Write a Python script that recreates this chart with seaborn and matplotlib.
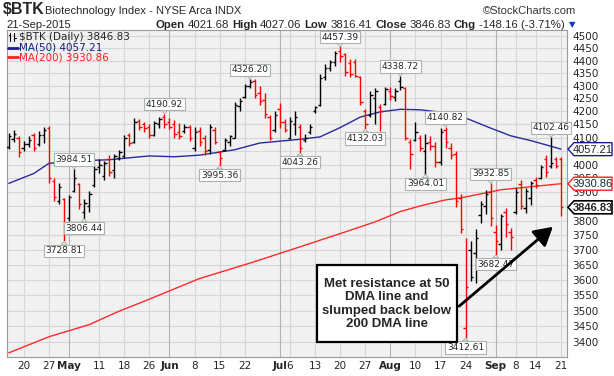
import numpy as np
import pandas as pd
import matplotlib
matplotlib.use("Agg")
import matplotlib.pyplot as plt
import seaborn as sns
from matplotlib.lines import Line2D
from matplotlib.patches import Rectangle, FancyArrowPatch, Polygon
from matplotlib.ticker import FixedLocator, NullLocator, FixedFormatter

# ---------------- data ----------------
holidays = ["2015-05-25", "2015-07-03", "2015-09-07"]
dates = [d for d in pd.bdate_range("2015-04-15", "2015-09-21") if d.strftime("%Y-%m-%d") not in holidays]

opens = [4065, 4095, 4100, 4060, 4075, 4110, 4075, 4110, 4135, 3940,
         3870, 3875, 3810, 3905, 3930, 3830, 3850, 3925, 3990, 3960,
         4020, 3980, 4025, 4030, 4110, 4085, 4165, 4150, 4140, 4110,
         4150, 4180, 4160, 4150, 4120, 4125, 4140, 4060, 4125, 4100,
         4055, 4130, 4045, 4055, 4085, 4100, 4220, 4255, 4300, 4320,
         4270, 4245, 4180, 4130, 4210, 4160, 4100, 4150, 4140, 4090,
         4120, 4200, 4225, 4335, 4370, 4395, 4440, 4425, 4390, 4395,
         4335, 4200, 4185, 4250, 4215, 4230, 4280, 4255, 4320, 4290,
         4085, 4090, 4100, 4050, 4085, 4070, 4010, 4130, 4060, 4040,
         3880, 3445, 3700, 3690, 3820, 3850, 3900, 3760, 3720, 3830,
         3760, 3830, 3930, 3845, 3880, 3945, 3950, 4020, 3995, 4020,
         4021.68]
highs = [4118, 4130, 4106, 4088, 4106, 4118, 4124, 4140, 4145, 3950,
         3935, 3880, 3890, 3984.51, 3935, 3875, 3905, 3995, 4022, 4015,
         4035, 4040, 4055, 4111, 4118, 4176, 4172, 4160, 4150, 4165,
         4180, 4190.92, 4176, 4168, 4155, 4152, 4148, 4142, 4140, 4110,
         4150, 4140, 4050, 4097, 4110, 4238, 4251, 4308, 4326.20, 4325,
         4300, 4270, 4187, 4200, 4232, 4170, 4180, 4200, 4150, 4115,
         4150, 4222, 4345, 4385, 4404, 4440, 4457.39, 4430, 4405, 4405,
         4340, 4210, 4280, 4290, 4228, 4295, 4295, 4290, 4338.72, 4295,
         4096, 4159, 4110, 4115, 4108, 4085, 4135, 4140.82, 4080, 4050,
         3895, 3740, 3730, 3770, 3870, 3908, 3932.85, 3785, 3822, 3844,
         3775, 3915, 3945, 3915, 3940, 3955, 4000, 4034, 4102.46, 4027,
         4027.06]
lows = [4058, 4085, 4029, 4050, 4064, 4050, 4070, 4080, 3935, 3870,
        3860, 3728.81, 3800, 3900, 3840, 3806.44, 3830, 3920, 3970, 3945,
        3960, 3950, 4018, 4025, 4070, 4080, 4128, 4120, 4100, 4105,
        4135, 4138, 4132, 4100, 4095, 4118, 4088, 4050, 4070, 4035,
        4040, 4075, 3995.36, 4050, 4070, 4097, 4200, 4251, 4289, 4250,
        4225, 4174, 4091, 4123, 4136, 4120, 4095, 4110, 4043.26, 4085,
        4115, 4195, 4222, 4322, 4360, 4380, 4395, 4340, 4335, 4335,
        4225, 4132.03, 4180, 4150, 4127, 4225, 4245, 4240, 4283, 4092,
        3984, 4086, 4050, 3964.01, 4055, 3990, 4000, 4060, 4020, 3848,
        3758, 3412.61, 3595, 3590, 3793, 3822, 3780, 3682.47, 3701, 3745,
        3700, 3822, 3840, 3826, 3856, 3915, 3947, 3954, 3987, 3987,
        3816.41]
closes = [4105, 4115, 4045, 4075, 4090, 4060, 4110, 4130, 3950, 3885,
          3920, 3780, 3885, 3950, 3860, 3862, 3895, 3985, 4000, 4005,
          3975, 4030, 4045, 4100, 4080, 4160, 4140, 4135, 4110, 4155,
          4170, 4150, 4140, 4115, 4105, 4140, 4100, 4120, 4085, 4050,
          4140, 4085, 4025, 4090, 4105, 4225, 4240, 4300, 4315, 4265,
          4240, 4190, 4100, 4185, 4160, 4130, 4165, 4180, 4060, 4100,
          4140, 4215, 4330, 4370, 4395, 4430, 4420, 4355, 4345, 4340,
          4235, 4150, 4265, 4280, 4200, 4285, 4260, 4280, 4295, 4100,
          4040, 4120, 4060, 4080, 4070, 4010, 4120, 4085, 4035, 3870,
          3770, 3575, 3610, 3740, 3860, 3895, 3810, 3730, 3815, 3790,
          3745, 3900, 3850, 3905, 3935, 3925, 3990, 3975, 4005, 3994.99,
          3846.83]

ma50_day = [0, 5, 8, 15, 20, 25, 28, 33, 38, 45, 50, 58, 62, 66, 70, 74, 78, 82, 86, 90, 92, 96, 100, 104, 108, 110]
ma50_val = [3932, 3968, 4005, 4015, 4018, 4027, 4032, 4029, 4035, 4055, 4080, 4094, 4103, 4138, 4178, 4198,
            4208, 4206, 4197, 4181, 4167, 4136, 4107, 4089, 4068, 4057.21]
ma200_day = [0, 8, 16, 22, 27, 38, 48, 58, 67, 73, 78, 82, 87, 90, 98, 104, 110]
ma200_val = [3367, 3417, 3455, 3498, 3530, 3604, 3655, 3710, 3761, 3796, 3832, 3852, 3873, 3880, 3909, 3920, 3930.86]

tick_dates = ["2015-04-20", "2015-04-27", "2015-05-01", "2015-05-11", "2015-05-18", "2015-05-26",
              "2015-06-01", "2015-06-08", "2015-06-15", "2015-06-22", "2015-07-01", "2015-07-06",
              "2015-07-13", "2015-07-20", "2015-07-27", "2015-08-03", "2015-08-10", "2015-08-17",
              "2015-08-24", "2015-09-01", "2015-09-08", "2015-09-14", "2015-09-21"]
tick_labels = ["20", "27", "May", "11", "18", "26", "Jun", "8", "15", "22", "Jul", "6",
               "13", "20", "27", "Aug", "10", "17", "24", "Sep", "8", "14", "21"]
month_labels = ["May", "Jun", "Jul", "Aug", "Sep"]

high_calls = [("2015-05-04", 3984.51), ("2015-05-29", 4190.92), ("2015-06-23", 4326.20),
              ("2015-07-20", 4457.39), ("2015-08-05", 4338.72), ("2015-08-18", 4140.82),
              ("2015-08-31", 3932.85), ("2015-09-17", 4102.46)]
low_calls = [("2015-04-30", 3728.81), ("2015-05-06", 3806.44), ("2015-06-15", 3995.36),
             ("2015-07-08", 4043.26), ("2015-07-27", 4132.03), ("2015-08-12", 3964.01),
             ("2015-08-24", 3412.61), ("2015-09-01", 3682.47)]

y_ticks = list(range(3400, 4501, 50))
hidden_ticks = [4050, 3850]   # fully covered by the value tags

header_parts = [("Open", "bold"), ("4021.68", "normal"), ("High", "bold"), ("4027.06", "normal"),
                ("Low", "bold"), ("3816.41", "normal"), ("Close", "bold"), ("3846.83", "normal"),
                ("Chg", "bold"), ("-148.16 (-3.71%)", "normal")]

# ---------------- figure ----------------
sns.set_style("white")
plt.rcParams["font.family"] = ["DejaVu Sans"]
hf = ["Liberation Sans", "DejaVu Sans"]

W, H = 614, 376
fig = plt.figure(figsize=(W / 100, H / 100), dpi=100)
PL, PR, PT, PB = 7, 567, 30, 357
YMIN, YMAX = 3354.2, 4524.8
ax = fig.add_axes([PL / W, 1 - PB / H, (PR - PL) / W, (PB - PT) / H])


def fpx(x, y):
    return x / W, 1 - y / H


def ypx(v):
    return PT + (np.log(YMAX) - np.log(v)) / (np.log(YMAX) - np.log(YMIN)) * (PB - PT)


date_str = [d.strftime("%Y-%m-%d") for d in dates]
pos = {s: i for i, s in enumerate(date_str)}
df = pd.DataFrame({"x": np.arange(len(dates)), "o": opens, "h": highs, "l": lows, "c": closes})
prev = df["c"].shift(1).fillna(df["c"].iloc[0] - 1)
df["col"] = np.where(df["c"] >= prev, "#000000", "#ff0000")

ax.set_facecolor("#f1f1f1")
ax.set_yscale("log")
ax.set_xlim(-0.36, 111.2)
ax.set_ylim(YMIN, YMAX)

for v in y_ticks:
    ax.axhline(v, color="#d6d6d6", lw=0.8, zorder=0)
for s, lab in zip(tick_dates, tick_labels):
    ax.axvline(pos[s], color="#b3b3b3" if lab in month_labels else "#d6d6d6", lw=0.8, zorder=0)

# moving averages via seaborn
sns.lineplot(x=ma200_day, y=ma200_val, ax=ax, color="#ff2a2a", lw=1.0, zorder=2)
sns.lineplot(x=ma50_day, y=ma50_val, ax=ax, color="#2a2a9a", lw=1.0, zorder=2)

# OHLC bars
tw = 0.48
ax.vlines(df["x"], df["l"], df["h"], colors=df["col"], lw=1.0, zorder=3)
ax.hlines(df["o"], df["x"] - tw, df["x"], colors=df["col"], lw=1.0, zorder=3)
ax.hlines(df["c"], df["x"], df["x"] + tw, colors=df["col"], lw=1.0, zorder=3)

ax.yaxis.tick_right()
ax.yaxis.set_major_locator(FixedLocator(y_ticks))
ax.yaxis.set_minor_locator(NullLocator())
ax.yaxis.set_major_formatter(FixedFormatter(["" if v in hidden_ticks else str(v) for v in y_ticks]))
ax.tick_params(axis="y", which="both", length=0, pad=4, labelsize=7.5)
ax.set_xticks([pos[s] for s in tick_dates])
ax.set_xticklabels(tick_labels)
ax.tick_params(axis="x", length=0, pad=3, labelsize=7.5)
for t in ax.get_xticklabels():
    if t.get_text() in month_labels:
        t.set_fontweight("bold")
ax.set_xlabel("")
ax.set_ylabel("")
for sp in ax.spines.values():
    sp.set_color("#9a9a9a")
    sp.set_linewidth(0.8)

# callout labels
box = dict(boxstyle="square,pad=0.18", fc="white", ec="#a9b5a9", lw=0.8)
arrow = dict(arrowstyle="wedge,tail_width=0.6,shrink_factor=0.5", fc="white", ec="#a9b5a9", lw=0.7,
             shrinkA=0, shrinkB=0)
for s, v in high_calls:
    ax.annotate(f"{v:.2f}", xy=(pos[s], v), xytext=(0, 3.5), textcoords="offset points",
                ha="center", va="bottom", fontsize=6.5, bbox=box, arrowprops=arrow, zorder=6)
for s, v in low_calls:
    ax.annotate(f"{v:.2f}", xy=(pos[s], v), xytext=(0, -3.5), textcoords="offset points",
                ha="center", va="top", fontsize=6.5, bbox=box, arrowprops=arrow, zorder=6)

# right-side value tags
for v, ec, fw in [(ma50_val[-1], "#1a1a8c", "normal"), (ma200_val[-1], "#ff2020", "normal"),
                  (closes[-1], "#000000", "bold")]:
    yc = ypx(v)
    pts = [fpx(568, yc), fpx(574, yc - 6.5), fpx(612, yc - 6.5), fpx(612, yc + 6.5), fpx(574, yc + 6.5)]
    fig.add_artist(Polygon(pts, closed=True, transform=fig.transFigure, fc="white", ec=ec,
                           lw=1.0 if fw == "normal" else 1.2, zorder=7))
    fig.text(*fpx(593, yc + 0.5), f"{v:.2f}", ha="center", va="center", fontsize=8, fontweight=fw,
             family=hf, zorder=8)

# legend inside plot
fig.add_artist(Line2D([10 / W, 10 / W], [1 - 33 / H, 1 - 41 / H], color="black", lw=0.8))
fig.add_artist(Line2D([8.5 / W, 10 / W], [1 - 35 / H, 1 - 35 / H], color="black", lw=0.8))
fig.add_artist(Line2D([14 / W, 14 / W], [1 - 33 / H, 1 - 41 / H], color="black", lw=0.8))
fig.add_artist(Line2D([14 / W, 15.5 / W], [1 - 38 / H, 1 - 38 / H], color="black", lw=0.8))
fig.text(*fpx(19, 37), r"\$BTK (Daily) 3846.83", fontsize=7.5, va="center", ha="left")
fig.add_artist(Line2D([8 / W, 18 / W], [1 - 47.5 / H, 1 - 47.5 / H], color="#1a1a8c", lw=2))
fig.text(*fpx(19, 47.5), "MA(50) 4057.21", fontsize=7.5, va="center", ha="left", color="#1a1a8c")
fig.add_artist(Line2D([8 / W, 18 / W], [1 - 57 / H, 1 - 57 / H], color="#ff2020", lw=2))
fig.text(*fpx(19, 57), "MA(200) 3930.86", fontsize=7.5, va="center", ha="left", color="#ff2020")

# header
fig.text(*fpx(3, 10), r"\$BTK", fontsize=11.5, fontweight="bold", va="center", ha="left", family=hf)
fig.text(*fpx(45, 10.5), "Biotechnology Index - NYSE Arca INDX", fontsize=8, va="center", ha="left", family=hf)
fig.text(*fpx(576, 10.5), "\u00a9StockCharts.com", fontsize=8, va="center", ha="right", family=hf, color="#333333")
fig.text(*fpx(6, 24.5), "21-Sep-2015", fontsize=8, va="center", ha="left", family=hf)

renderer = fig.canvas.get_renderer()
texts = []
for s, fw in header_parts:
    t = fig.text(0, 1 - 24.5 / H, s, fontsize=8.2, fontweight=fw, va="center", ha="left", family=hf)
    texts.append(t)
widths = [t.get_window_extent(renderer).width for t in texts]
x0, x1 = 155, 565
gap = (x1 - x0 - sum(widths)) / (len(texts) - 1)
xx = x0
for t, w in zip(texts, widths):
    t.set_x(xx / W)
    xx += w + gap
fig.text(*fpx(572, 25), "\u25bc", fontsize=6, va="center", ha="center", color="#1030d0")

# annotation box + arrow
bx0, by0, bx1, by1 = 317, 265, 457, 342
fig.add_artist(Rectangle(fpx(bx0, by1), (bx1 - bx0) / W, (by1 - by0) / H, transform=fig.transFigure,
                         fc="white", ec="black", lw=1.6, zorder=8))
fig.text(*fpx((bx0 + bx1) / 2, (by0 + by1) / 2 + 0.5),
         "Met resistance at 50\nDMA line and\nslumped back below\n200 DMA line",
         fontsize=9.5, fontweight="bold", ha="center", va="center", linespacing=1.15,
         family=hf, zorder=9)
fig.add_artist(FancyArrowPatch(fpx(457, 308), fpx(555, 225), transform=fig.transFigure,
                               arrowstyle="-|>,head_length=7,head_width=4", mutation_scale=1.6,
                               color="black", lw=2.0, zorder=9))

fig.savefig("out.png", dpi=100)
